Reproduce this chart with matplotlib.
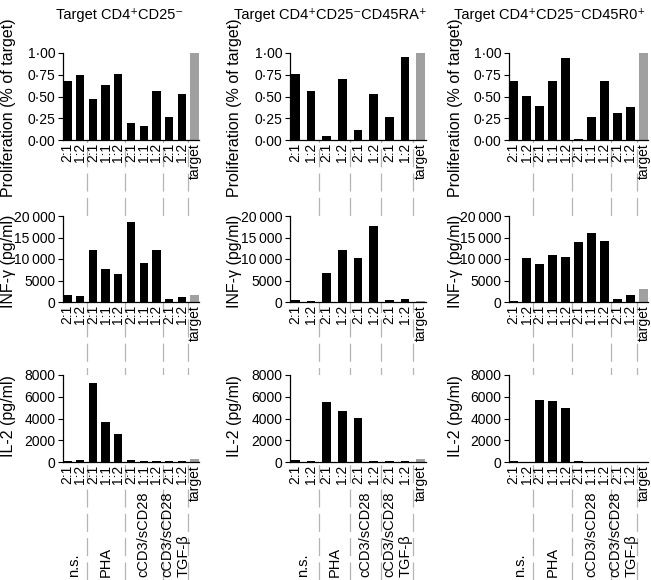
import matplotlib
matplotlib.use('Agg')
import matplotlib.pyplot as plt
from matplotlib.lines import Line2D
from matplotlib.transforms import blended_transform_factory

plt.rcParams['font.family'] = ['Liberation Sans', 'DejaVu Sans']
plt.rcParams['lines.scale_dashes'] = False

# ---------------- data ----------------
titles = ['Target CD4⁺CD25⁻', 'Target CD4⁺CD25⁻CD45RA⁺', 'Target CD4⁺CD25⁻CD45R0⁺']

ratios_a = ['2:1', '1:2', '2:1', '1:1', '1:2', '2:1', '1:1', '1:2', '2:1', '1:2', 'target']
ratios_b = ['2:1', '1:2', '2:1', '1:2', '2:1', '1:2', '2:1', '1:2', 'target']
group_names = ['n.s.', 'PHA', 'cCD3/sCD28', 'cCD3/sCD28\nTGF-β']
group_sizes_a = [2, 3, 3, 2]
group_sizes_b = [2, 2, 2, 2]

# panel 1: CD4+CD25-
prolif_1 = [0.68, 0.75, 0.47, 0.63, 0.755, 0.20, 0.16, 0.56, 0.27, 0.53, 1.00]
ifng_1 = [1700, 1450, 12200, 7700, 6500, 18600, 9000, 12200, 700, 1200, 1600]
il2_1 = [120, 200, 7300, 3700, 2600, 200, 100, 100, 100, 100, 300]

# panel 2: CD4+CD25-CD45RA+
prolif_2 = [0.76, 0.56, 0.05, 0.70, 0.12, 0.53, 0.27, 0.95, 1.00]
ifng_2 = [450, 300, 6700, 12000, 10200, 17600, 450, 600, 150]
il2_2 = [150, 90, 5500, 4730, 4030, 60, 60, 60, 250]

# panel 3: CD4+CD25-CD45R0+
prolif_3 = [0.68, 0.51, 0.39, 0.68, 0.94, 0.01, 0.26, 0.68, 0.31, 0.38, 1.00]
ifng_3 = [230, 10200, 8900, 11000, 10500, 13900, 16100, 14100, 680, 1740, 2950]
il2_3 = [60, 40, 5700, 5620, 4950, 50, 40, 40, 40, 40, 40]

prolif_ticks = [0, 0.25, 0.5, 0.75, 1.0]
prolif_ticklabels = ['0·00', '0·25', '0·50', '0·75', '1·00']
ifng_ticks = [0, 5000, 10000, 15000, 20000]
ifng_ticklabels = ['0', '5000', '10\u2009000', '15\u2009000', '20\u2009000']
il2_ticks = [0, 2000, 4000, 6000, 8000]
il2_ticklabels = ['0', '2000', '4000', '6000', '8000']

row_labels = ['Proliferation (% of target)', 'INF-γ (pg/ml)', 'IL-2 (pg/ml)']

# ---------------- layout ----------------
W, H = 651, 580
fig = plt.figure(figsize=(W / 100, H / 100), dpi=100)

col_x = [(63, 199), (290, 426), (509, 648)]
row_y = [(53, 140), (216, 302), (375, 462)]
title_cx = [120, 330, 550]
label_cx = [9, 235, 455]
label_cy = [108, 261, 416]

panels = [
    (ratios_a, group_sizes_a, [prolif_1, ifng_1, il2_1], 0.65),
    (ratios_b, group_sizes_b, [prolif_2, ifng_2, il2_2], 0.55),
    (ratios_a, group_sizes_a, [prolif_3, ifng_3, il2_3], 0.65),
]
row_ticks = [(prolif_ticks, prolif_ticklabels, 1.0),
             (ifng_ticks, ifng_ticklabels, 20000),
             (il2_ticks, il2_ticklabels, 8000)]

BLACK = '#000000'
GREY = '#a0a0a0'
DASH = '#b4b4b4'

for c, (cats, gsizes, series, bw) in enumerate(panels):
    x0, x1 = col_x[c]
    n = len(cats)
    xs = list(range(n))
    colors = [BLACK] * (n - 1) + [GREY]
    bottom_ax = None
    for r in range(3):
        y0, y1 = row_y[r]
        ax = fig.add_axes([x0 / W, 1 - y1 / H, (x1 - x0) / W, (y1 - y0) / H])
        ax.set_facecolor('white')
        ax.bar(xs, series[r], width=bw, color=colors, edgecolor='none')
        ticks, tlabels, ymax = row_ticks[r]
        ax.set_ylim(0, ymax)
        ax.set_xlim(-0.35, n - 1 + 0.35)
        ax.set_yticks(ticks)
        ax.set_yticklabels(tlabels, fontsize=10)
        ax.set_xticks(xs)
        ax.set_xticklabels(cats, rotation=90, fontsize=10, va='top', ha='center')
        ax.tick_params(axis='x', length=0, pad=2)
        ax.tick_params(axis='y', length=3.5, width=0.8, pad=2, direction='out')
        for s in ['top', 'right']:
            ax.spines[s].set_visible(False)
        for s in ['left', 'bottom']:
            ax.spines[s].set_linewidth(0.9)
        fig.text(label_cx[c] / W, 1 - label_cy[r] / H, row_labels[r], rotation=90,
                 ha='center', va='center', fontsize=11.5)
        bottom_ax = ax

    # group boundaries (dashed lines) and group names
    tr = blended_transform_factory(bottom_ax.transData, fig.transFigure)
    pos = 0
    for g, size in enumerate(gsizes):
        center = pos + (size - 1) / 2
        fig.text(center, 3 / H, group_names[g], transform=tr, rotation=90,
                 ha='center', va='bottom', multialignment='left', fontsize=10.5)
        pos += size
        boundary = pos - 0.5
        ln = Line2D([boundary, boundary], [0, 1 - 140 / H], transform=tr,
                    color=DASH, linewidth=0.9, dashes=(13, 4.5), zorder=-1)
        fig.add_artist(ln)

    fig.text(title_cx[c] / W, 1 - 15 / H, titles[c], ha='center', va='center', fontsize=10.5)

fig.savefig('out.png', dpi=100, facecolor='white')
